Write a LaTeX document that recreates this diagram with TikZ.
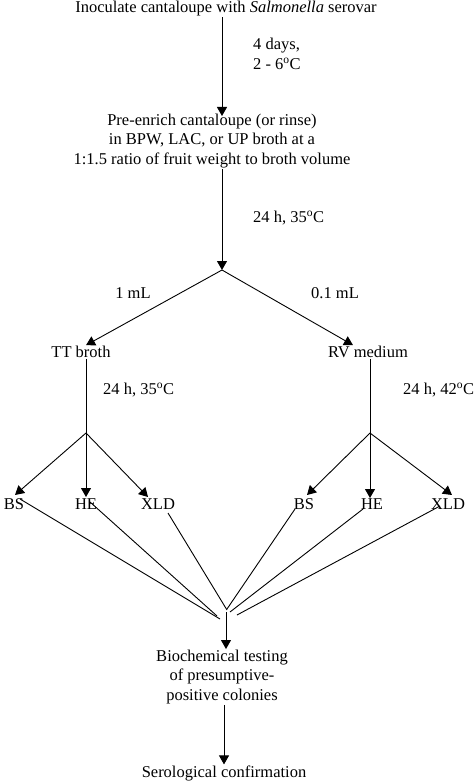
\documentclass[tikz,border=0pt]{standalone}
\usepackage{fontspec}
\setmainfont{Liberation Serif}
\usetikzlibrary{arrows.meta,calc}
\begin{document}
\begin{tikzpicture}[x=1pt,y=-1pt,
  txt/.style={inner sep=1pt,outer sep=0pt,font=\fontsize{16.5}{19.5}\selectfont,align=center},
  lbl/.style={inner sep=0pt,font=\fontsize{16.5}{19.5}\selectfont,align=left,anchor=west},
  conn/.style={line width=0.9pt},
  arr/.style={conn,-{Triangle[length=9pt,width=10pt]}}]
\useasboundingbox (0,0) rectangle (474,782);
% nodes
\node[txt] (inoc) at (226,9) {Inoculate cantaloupe with \textit{Salmonella} serovar};
\node[txt] (pre) at (212,141) {Pre-enrich cantaloupe (or rinse)\\in BPW, LAC, or UP broth at a\\1:1.5 ratio of fruit weight to broth volume};
\node[txt] (tt) at (81,352) {TT broth};
\node[txt] (rv) at (368,352) {RV medium};
\node[txt] (bs1) at (14,504) {BS};
\node[txt] (he1) at (86,504) {HE};
\node[txt] (xld1) at (158,504) {XLD};
\node[txt] (bs2) at (304,504) {BS};
\node[txt] (he2) at (372,504) {HE};
\node[txt] (xld2) at (448,504) {XLD};
\node[txt] (bio) at (222,677) {Biochemical testing\\of presumptive-\\positive colonies};
\node[txt] (sero) at (224,773) {Serological confirmation};
% branch points
\coordinate (b0) at (222,270);
\coordinate (b1) at (86,433);
\coordinate (b2) at (370,433);
\coordinate (c0) at (226,612);
\coordinate (e1) at (220,619);
\coordinate (e2) at (217,616);
\coordinate (e3) at (227,610);
\coordinate (e4) at (227,609);
\coordinate (e5) at (230,612);
\coordinate (e6) at (237,615);
% labels
\node[lbl] (l1) at (253,54) {4 days,\\2 - 6\textsuperscript{o}C};
\node[lbl] (l2) at (253,218) {24 h, 35\textsuperscript{o}C};
\node[inner sep=0pt,font=\fontsize{16.5}{19.5}\selectfont] (l3) at (133,293) {1 mL};
\node[inner sep=0pt,font=\fontsize{16.5}{19.5}\selectfont] (l4) at (335,293) {0.1 mL};
\node[lbl] (l5) at (103,390) {24 h, 35\textsuperscript{o}C};
\node[lbl] (l6) at (403,390) {24 h, 42\textsuperscript{o}C};
% connectors
\draw[arr] (inoc.south -| b0) -- ([yshift=-3pt]pre.north -| b0);
\draw[arr] (pre.south -| b0) -- (b0);
\draw[arr] (b0) -- ([xshift=5pt]tt.north);
\draw[arr] (b0) -- ([xshift=-15pt]rv.north);
\draw[conn] (tt.south -| b1) -- (b1);
\draw[conn] (rv.south -| b2) -- (b2);
\draw[arr] (b1) -- ([shift={(1,-9)}]bs1.center);
\draw[arr] (b1) -- ([shift={(0,-7)}]he1.center);
\draw[arr] (b1) -- ([shift={(-10,-7)}]xld1.center);
\draw[arr] (b2) -- ([shift={(3,-9)}]bs2.center);
\draw[arr] (b2) -- ([shift={(-2,-6)}]he2.center);
\draw[arr] (b2) -- ([shift={(4,-9)}]xld2.center);
\draw[conn] ([shift={(6,-5)}]bs1.center) -- (e1);
\draw[conn] ([shift={(4,-2)}]he1.center) -- (e2);
\draw[conn] ([shift={(10,9)}]xld1.center) -- (e3);
\draw[conn] ([shift={(-9,5)}]bs2.center) -- (e4);
\draw[conn] ([shift={(-9,5)}]he2.center) -- (e5);
\draw[conn] ([shift={(-8,2)}]xld2.center) -- (e6);
\draw[arr] (c0) -- (bio.north -| c0);
\draw[arr] (bio.south -| sero) -- (sero.north);
\end{tikzpicture}
\end{document}
